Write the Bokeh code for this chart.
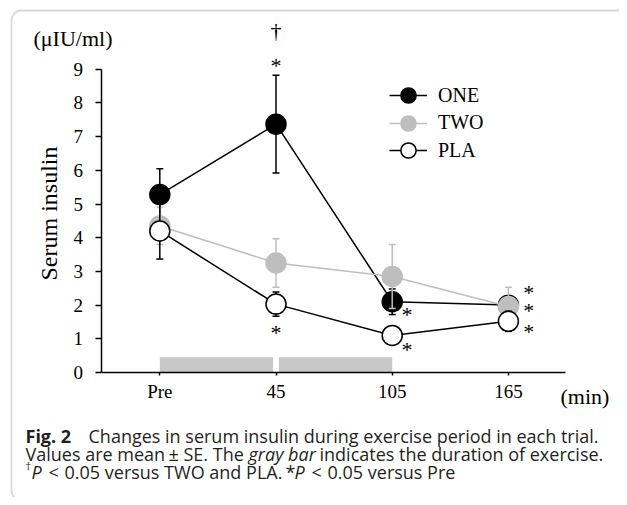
import math
from bokeh.plotting import figure
from bokeh.models import (ColumnDataSource, FixedTicker, Legend, LegendItem, Label,
                          BoxAnnotation, Range1d)
from bokeh.core.properties import value
from bokeh.embed import file_html
from bokeh.resources import INLINE

# ---------------- data ----------------
times = ["Pre", "45", "105", "165"]
one_mean = [5.28, 7.37, 2.10, 2.00]
one_se = [0.77, 1.45, 0.38, 0.25]
two_mean = [4.35, 3.25, 2.85, 1.96]
two_se = [0.55, 0.72, 0.95, 0.57]
pla_mean = [4.20, 2.03, 1.10, 1.52]
pla_se = [0.83, 0.36, 0.20, 0.30]
one_sig = ["", "*", "*", "*"]
one_dagger = ["", "\u2020", "", ""]
two_sig = ["", "", "", "*"]
pla_sig = ["", "*", "*", "*"]
exercise_start = [0, 1]   # time index where each exercise bout starts
exercise_end = [1, 2]     # time index where each exercise bout ends
y_ticks = [0, 1, 2, 3, 4, 5, 6, 7, 8, 9]

SERIF = "Liberation Serif"
SANS = "Open Sans"
GRAY = "#BEBEBE"
W, H = 619, 497

x_idx = list(range(len(times)))

p = figure(width=W, height=H, output_backend="svg", toolbar_location=None,
           x_range=Range1d(-1.371, 3.956), y_range=Range1d(-3.709, 11.04),
           x_axis_location="above", y_axis_location="right",
           min_border_left=0, min_border_right=0, min_border_top=0, min_border_bottom=0)
p.grid.visible = False
p.outline_line_color = None
p.background_fill_color = "white"
p.border_fill_color = "white"

# x axis (drawn at y = 0, labels below the line)
xa = p.xaxis[0]
xa.fixed_location = 0
xa.ticker = FixedTicker(ticks=x_idx)
xa.major_label_overrides = {i: t for i, t in enumerate(times)}
xa.bounds = (-0.502, 3.49)
xa.minor_tick_line_color = None
xa.major_tick_in = 3
xa.major_tick_out = 0
xa.major_label_standoff = -29
xa.axis_line_width = 1.5
xa.major_tick_line_width = 1.5
xa.major_label_text_font = SERIF
xa.major_label_text_font_size = "19px"
xa.major_label_text_color = "black"

# y axis (drawn at left edge of the data area, labels to its left)
ya = p.yaxis[0]
ya.fixed_location = -0.502
ya.ticker = FixedTicker(ticks=y_ticks)
ya.bounds = (0, 9)
ya.minor_tick_line_color = None
ya.major_tick_in = 6
ya.major_tick_out = 0
ya.major_label_standoff = -28
ya.axis_line_width = 1.5
ya.major_tick_line_width = 1.5
ya.major_label_text_font = SERIF
ya.major_label_text_font_size = "19px"
ya.major_label_text_color = "black"

# exercise gray bars
gap = 0.025
bar_left = [s + (gap if s > min(exercise_start) else 0) for s in exercise_start]
bar_right = [e - (gap if e < max(exercise_end) else 0) for e in exercise_end]
p.quad(left=bar_left, right=bar_right, bottom=[0] * len(bar_left), top=[0.45] * len(bar_left),
       fill_color="#C8C8C8", line_color=None)


def series(mean, se, line_color, fill_color, marker_line):
    src = ColumnDataSource(dict(x=x_idx, y=mean,
                                lo=[m - s for m, s in zip(mean, se)],
                                hi=[m + s for m, s in zip(mean, se)]))
    p.segment(x0="x", y0="lo", x1="x", y1="hi", source=src, line_color=line_color, line_width=1.5)
    p.scatter(x="x", y="hi", source=src, marker="dash", size=7, line_color=line_color, line_width=1.5)
    p.scatter(x="x", y="lo", source=src, marker="dash", size=7, line_color=line_color, line_width=1.5)
    ln = p.line(x="x", y="y", source=src, line_color=line_color, line_width=1.5)
    pts = p.scatter(x="x", y="y", source=src, marker="circle", size=20,
                    fill_color=fill_color, line_color=marker_line, line_width=1.5)
    return ln, pts


one_ln, one_pts = series(one_mean, one_se, "black", "black", "black")
two_ln, two_pts = series(two_mean, two_se, GRAY, GRAY, GRAY)
pla_ln, pla_pts = series(pla_mean, pla_se, "black", "white", "black")


def annotate(mean, sig, offsets):
    xs, ys, ts, dxs, dys = [], [], [], [], []
    for i, s in enumerate(sig):
        if s:
            xs.append(i)
            ys.append(mean[i])
            ts.append(s)
            dxs.append(offsets[i][0])
            dys.append(offsets[i][1])
    p.text(x=xs, y=ys, text=ts, x_offset=dxs, y_offset=dys,
           text_font=value(SERIF), text_font_size="22px", text_color="black",
           text_align="center", text_baseline="alphabetic")


annotate(one_mean, one_sig, {1: (0, -58.5), 2: (14.7, 12.5), 3: (20.3, 5.2)})
annotate(one_mean, one_dagger, {1: (0, -93.6)})
annotate(two_mean, two_sig, {3: (20.3, -13.8)})
annotate(pla_mean, pla_sig, {1: (0, 28.5), 2: (14.7, 13.9), 3: (20.3, 10.3)})

# legend: one small legend per trial so the entries sit close together
for i, (lab, rs) in enumerate([("ONE", [one_ln, one_pts]),
                               ("TWO", [two_ln, two_pts]),
                               ("PLA", [pla_ln, pla_pts])]):
    lg = Legend(items=[LegendItem(label=lab, renderers=rs)],
                location=(389, 381 - 27.5 * i), orientation="vertical",
                glyph_width=38, glyph_height=42, label_standoff=11,
                padding=0, margin=0, border_line_color=None, background_fill_alpha=0,
                label_text_font=SERIF, label_text_font_size="20px", label_text_color="black")
    p.add_layout(lg)

# axis titles
p.add_layout(Label(x=48, y=H - 213, x_units="screen", y_units="screen", text="Serum insulin",
                   angle=math.pi / 2, text_font=SERIF, text_font_size="24px", text_color="black",
                   text_align="center", text_baseline="middle"))
p.add_layout(Label(x=33, y=H - 38, x_units="screen", y_units="screen", text="(\u03bcIU/ml)",
                   text_font=SERIF, text_font_size="22px", text_color="black",
                   text_baseline="middle", text_align="left"))
p.add_layout(Label(x=560, y=H - 396, x_units="screen", y_units="screen", text="(min)",
                   text_font=SERIF, text_font_size="22px", text_color="black",
                   text_baseline="middle", text_align="left"))

# caption
b1, b2, b3 = H - 435, H - 453, H - 471
FS = "18px"
cap = [
    (25, b1, "Fig. 2", "bold", FS),
    (88, b1, "Changes in serum insulin during exercise period in each trial.", "normal", FS),
    (25, b2, "Values are mean", "normal", FS),
    (168, b2, "\u00b1", "normal", FS),
    (183, b2, "SE. The", "normal", FS),
    (248, b2, "gray bar", "italic", FS),
    (319, b2, "indicates the duration of exercise.", "normal", FS),
    (25, b3 + 6, "\u2020", "normal", "11px"),
    (31, b3, "P", "italic", FS),
    (48, b3, "<", "normal", FS),
    (64, b3, "0.05 versus TWO and PLA.", "normal", FS),
    (285, b3, "*", "normal", FS),
    (294, b3, "P", "italic", FS),
    (311, b3, "<", "normal", FS),
    (327, b3, "0.05 versus Pre", "normal", FS),
]
for cx, cy, t, style, fs in cap:
    p.add_layout(Label(x=cx, y=cy, x_units="screen", y_units="screen", text=t,
                       text_font=SANS, text_font_size=fs, text_font_style=style,
                       text_color="#231F20", text_baseline="alphabetic", text_align="left"))

# outer rounded frame
p.add_layout(BoxAnnotation(left=11, right=700, top=H - 10, bottom=-3,
                           left_units="screen", right_units="screen",
                           top_units="screen", bottom_units="screen",
                           fill_alpha=0, line_color="#808080", line_width=1.8,
                           border_radius=10, level="overlay"))

open("out.html", "w").write(file_html(p, INLINE))
